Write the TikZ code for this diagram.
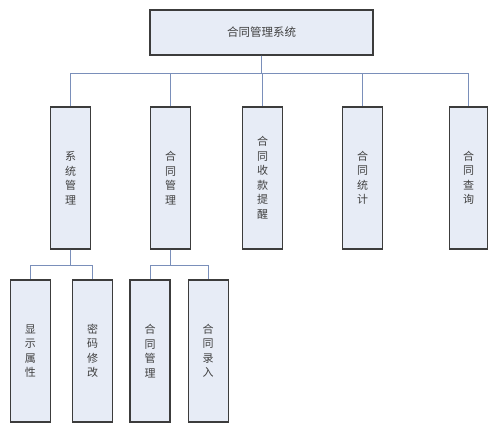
\documentclass[tikz,border=0pt]{standalone}
\usepackage{fontspec}
\newfontfamily\cjk{Noto Sans CJK SC}
\definecolor{boxfill}{HTML}{E7ECF6}
\definecolor{boxline}{HTML}{3C3C3C}
\definecolor{connline}{HTML}{7A8FBA}
\begin{document}
\begin{tikzpicture}[x=1pt,y=-1pt,
  box/.style={draw=boxline,fill=boxfill,line width=1.1pt,rectangle,inner sep=0pt,
    font=\cjk\fontsize{11}{14.5}\selectfont,text=black!75,align=center},
  vbox/.style={box,minimum width=40pt,minimum height=142pt},
  conn/.style={draw=connline,line width=0.9pt}]
\useasboundingbox (0,0) rectangle (499,430);
\node[box,minimum width=223pt,minimum height=45pt,font=\cjk\fontsize{11.5}{14}\selectfont] (top) at (261.5,32.5) {合同管理系统};
\node[vbox] (s1) at (70.7,178) {系\\统\\管\\理};
\node[vbox] (s2) at (170.7,178) {合\\同\\管\\理};
\node[vbox] (s3) at (262.7,178) {合\\同\\收\\款\\提\\醒};
\node[vbox] (s4) at (362.5,178) {合\\同\\统\\计};
\node[vbox,minimum width=38pt] (s5) at (468.7,178) {合\\同\\查\\询};
\node[vbox] (t1) at (30.3,351) {显\\示\\属\\性};
\node[vbox] (t2) at (92.7,351) {密\\码\\修\\改};
\node[vbox] (t3) at (150,351) {合\\同\\管\\理};
\node[vbox] (t4) at (208.2,351) {合\\同\\录\\入};
\foreach \c in {s1,s2,s3,s4,s5}
  \draw[conn] (top.south) -- ++(0,17.7) -| (\c.north);
\foreach \c in {t1,t2}
  \draw[conn] (s1.south) -- ++(0,16) -| (\c.north);
\foreach \c in {t3,t4}
  \draw[conn] (s2.south) -- ++(0,16) -| (\c.north);
\end{tikzpicture}
\end{document}
